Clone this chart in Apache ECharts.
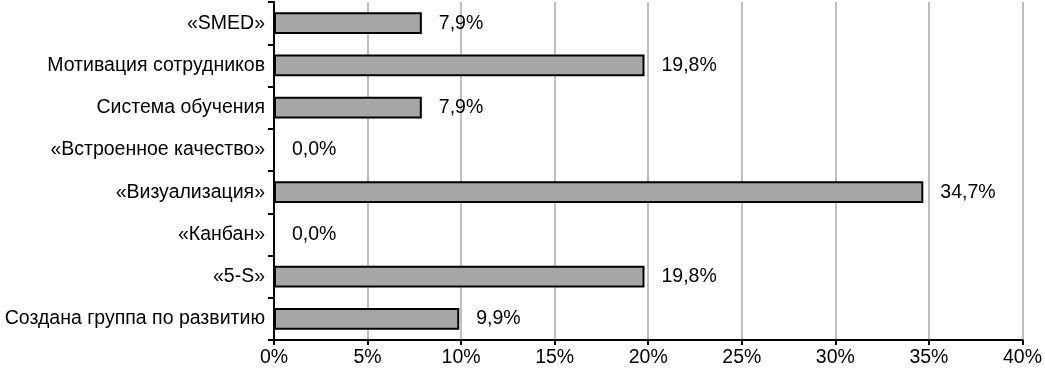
<!DOCTYPE html>
<html><head><meta charset="utf-8">
<script src="https://cdn.jsdelivr.net/npm/echarts@6/dist/echarts.min.js"></script>
<style>html,body{margin:0;padding:0;background:#fff}#c{width:1045px;height:371px}</style>
</head><body><div id="c"></div>
<script>
const categories = ["Создана группа по развитию","«5-S»","«Канбан»","«Визуализация»","«Встроенное качество»","Система обучения","Мотивация сотрудников","«SMED»"];
const values = [9.9, 19.8, 0.0, 34.7, 0.0, 7.9, 19.8, 7.9];
const xTicks = [0,5,10,15,20,25,30,35,40];
const chart = echarts.init(document.getElementById('c'));
const font = 'Liberation Sans, Arial, sans-serif';
chart.setOption({
  animation:false,
  grid:{left:274,right:21,top:2,bottom:31,containLabel:false},
  xAxis:{type:'value',min:xTicks[0],max:xTicks[xTicks.length-1],interval:5,
    axisLine:{show:true,lineStyle:{color:'#000',width:2}},
    axisTick:{show:true,length:5,lineStyle:{color:'#000',width:2}},
    splitLine:{show:true,lineStyle:{color:'#bfbfbf',width:2}},
    axisLabel:{formatter:v=>v+'%',color:'#000',fontSize:19.5,fontFamily:font,margin:8}},
  yAxis:{type:'category',data:categories,
    axisLine:{show:true,lineStyle:{color:'#000',width:2}},
    axisTick:{show:true,length:6,lineStyle:{color:'#000',width:2}},
    axisLabel:{color:'#000',fontSize:19.5,fontFamily:font,margin:9}},
  series:[{type:'bar',data:values,barWidth:'52%',
    itemStyle:{color:'#a6a6a6',borderColor:'#000',borderWidth:2},
    label:{show:true,position:'right',distance:17,color:'#000',fontSize:19.5,fontFamily:font,
      formatter:p=>p.value.toFixed(1).replace('.',',')+'%'}}]
});
</script></body></html>
